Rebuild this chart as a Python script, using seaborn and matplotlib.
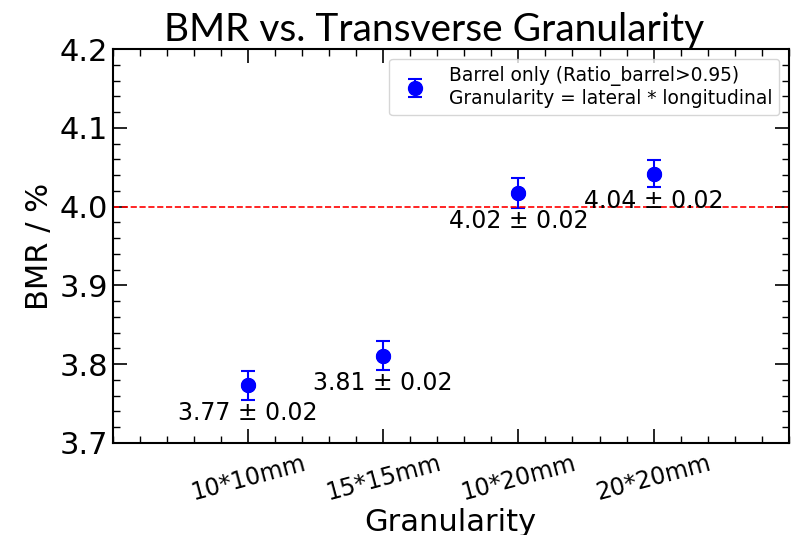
import numpy as np
import matplotlib
matplotlib.use("Agg")
import matplotlib.pyplot as plt
import seaborn as sns
from matplotlib.ticker import MultipleLocator

# data
granularity = ["10*10mm", "15*15mm", "10*20mm", "20*20mm"]
bmr = [3.773, 3.811, 4.017, 4.042]
bmr_err = [0.018, 0.018, 0.019, 0.017]
reference_bmr = 4.0

sns.set_theme(style="ticks", rc={"text.color": "black", "axes.labelcolor": "black",
                                 "xtick.color": "black", "ytick.color": "black",
                                 "axes.edgecolor": "black"})
plt.rcParams["font.family"] = ["DejaVu Sans"]

fig = plt.figure(figsize=(8, 5.35), dpi=100)
ax = fig.add_axes([0.141, 0.172, 0.845, 0.736])

xpos = np.arange(1, len(granularity) + 1)

ax.errorbar(xpos, bmr, yerr=bmr_err, fmt="o", color="blue", markersize=10,
            capsize=5, elinewidth=1.5, capthick=1.5,
            label="Barrel only (Ratio_barrel>0.95)\nGranularity = lateral * longitudinal")
sns.scatterplot(x=xpos, y=bmr, color="blue", s=100, edgecolor="blue",
                legend=False, ax=ax, zorder=3)

ax.axhline(reference_bmr, color="red", linestyle="--", linewidth=1.2)

for x, y, e in zip(xpos, bmr, bmr_err):
    ax.annotate(f"{y:.2f} ± {e:.2f}", (x, y), xytext=(0, -20),
                textcoords="offset points", ha="center", va="center",
                fontsize=17)

ax.set_xlim(0, 5)
ax.set_ylim(3.7, 4.2)
ax.set_xticks(xpos)
ax.set_xticklabels(granularity, rotation=15, fontsize=17)
ax.xaxis.set_minor_locator(MultipleLocator(0.2))
ax.yaxis.set_major_locator(MultipleLocator(0.1))
ax.yaxis.set_minor_locator(MultipleLocator(0.02))
ax.tick_params(axis="y", labelsize=22)
ax.tick_params(axis="x", pad=6)
ax.tick_params(which="both", direction="in", top=True, right=True, color="black")
ax.tick_params(which="major", length=10, width=1.2)
ax.tick_params(which="minor", length=5, width=1)
for sp in ax.spines.values():
    sp.set_linewidth(1.5)

ax.set_xlabel("Granularity", fontsize=22, labelpad=2)
ax.set_ylabel("BMR / %", fontsize=22)
ax.set_title("BMR vs. Transverse Granularity", fontsize=28, pad=6,
             family=["Lato", "DejaVu Sans"], x=0.475)
ax.legend(loc="upper right", fontsize=13.4, frameon=True)

fig.savefig("out.png", dpi=100)
